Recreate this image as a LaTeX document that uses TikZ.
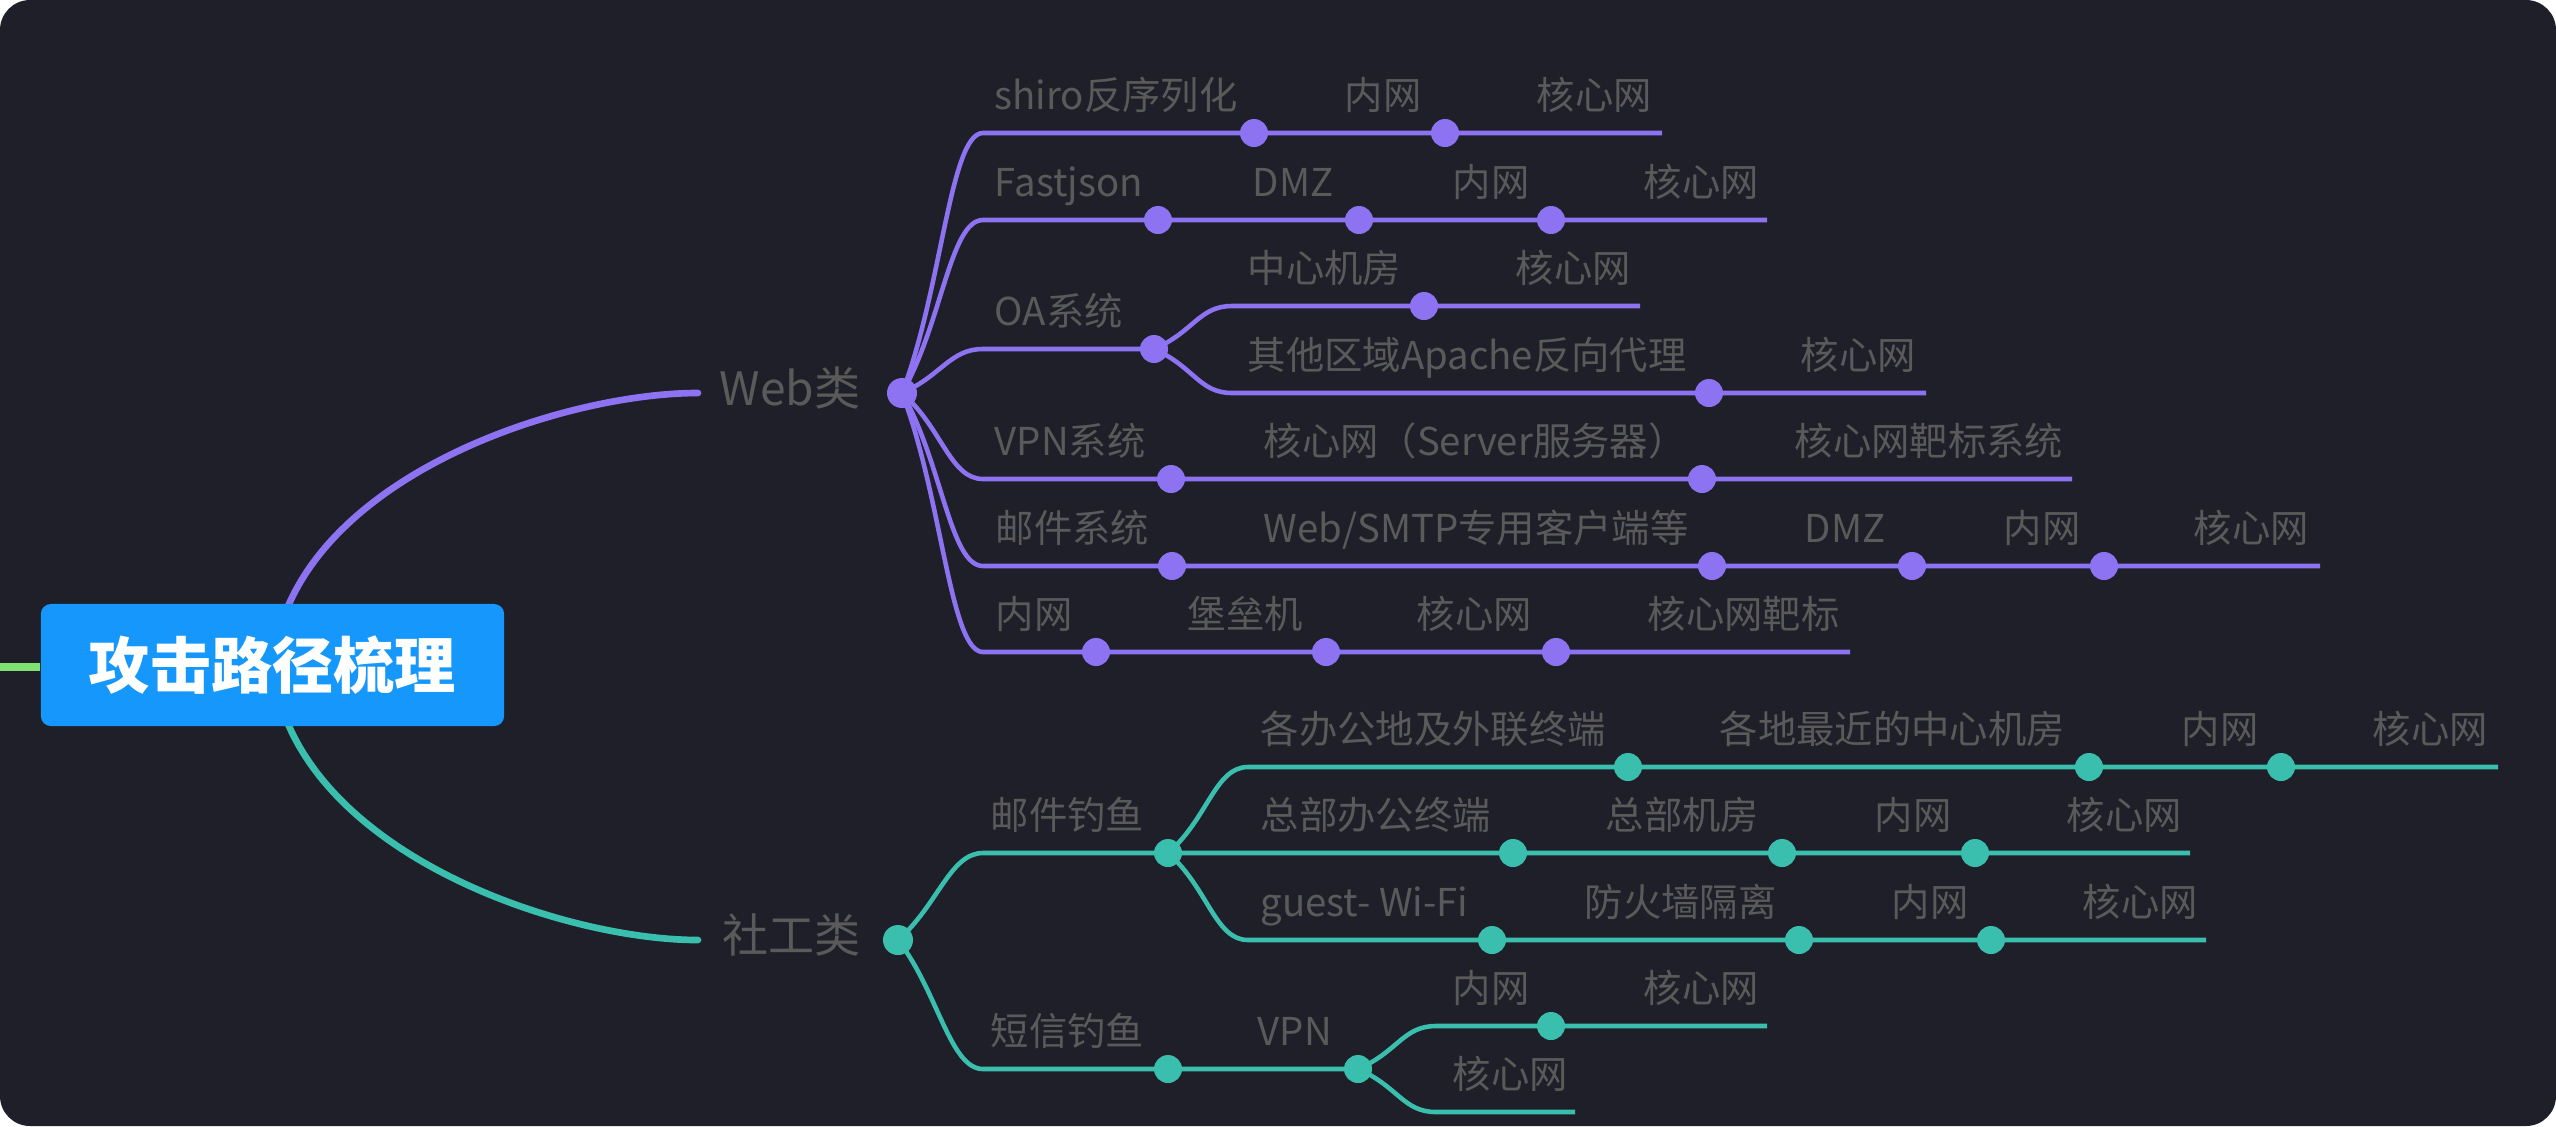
\documentclass[tikz,border=0pt]{standalone}
\usepackage{fontspec}
\setmainfont{Noto Sans CJK SC}
\usetikzlibrary{calc}
\definecolor{bgc}{HTML}{1F1F29}
\definecolor{pur}{HTML}{8D73F2}
\definecolor{tea}{HTML}{3ABEAE}
\definecolor{rootblue}{HTML}{1597FC}
\definecolor{stubc}{HTML}{80E070}
\definecolor{lbl}{HTML}{5A5A5A}
\pgfdeclarelayer{bgl}
\pgfdeclarelayer{lines}
\pgfsetlayers{bgl,lines,main}
\begin{document}
\begin{tikzpicture}[x=0.01cm,y=-0.01cm,
  mm/.style={to path={.. controls ($(\tikztostart)!0.4!(\tikztostart |- \tikztotarget)+(40,0)$) and ($(\tikztotarget)+(-33,0)$) .. (\tikztotarget)}},
  dotp/.style={circle,fill=pur,inner sep=0pt,minimum size=0.28cm},
  dott/.style={circle,fill=tea,inner sep=0pt,minimum size=0.28cm},
  lb/.style={anchor=base west,inner sep=0pt,text=lbl,font=\fontsize{10.9pt}{13pt}\selectfont},
  cat/.style={anchor=base west,inner sep=0pt,text=lbl,font=\fontsize{13.1pt}{15pt}\selectfont},
  pl/.style={draw=pur,line width=1.3pt},
  tl/.style={draw=tea,line width=1.3pt},
  mainp/.style={draw=pur,line width=1.9pt,line cap=round},
  maint/.style={draw=tea,line width=1.9pt,line cap=round},
]
\useasboundingbox (0,0) rectangle (2556,1126);
\begin{pgfonlayer}{bgl}
\fill[white] (0,0) rectangle (2556,1126);
\fill[bgc,rounded corners=0.3cm] (0,0) rectangle (2556,1126);
\end{pgfonlayer}

% root
\node[rectangle,rounded corners=0.1cm,fill=rootblue,text=white,inner sep=0pt,
  minimum width=4.63cm,minimum height=1.22cm,font=\bfseries\fontsize{17.4pt}{20pt}\selectfont]
  (root) at (272.5,665) {攻击路径梳理};
\coordinate (stub) at (0,667);
\coordinate (webend) at (698,393);
\coordinate (sgend) at (698,940);

% category nodes
\node[dotp,minimum size=0.30cm] (web) at (902,393) {};
\node[cat] (webl) at (719,405.5) {Web类};
\node[dott,minimum size=0.30cm] (sg) at (898,940) {};
\node[cat] (sgl) at (722,952.5) {社工类};

% ---------- Web rows ----------
% R1
\coordinate (p1s) at (983,133);
\node[dotp] (p1a) at (1254,133) {};
\node[dotp] (p1b) at (1445,133) {};
\coordinate (p1e) at (1662,133);
\node[lb] (l11) at (994,109) {shiro反序列化};
\node[lb] (l12) at (1344,109) {内网};
\node[lb] (l13) at (1536,109) {核心网};
% R2
\coordinate (p2s) at (983,220);
\node[dotp] (p2a) at (1158,220) {};
\node[dotp] (p2b) at (1359,220) {};
\node[dotp] (p2c) at (1551,220) {};
\coordinate (p2e) at (1767,220);
\node[lb] (l21) at (994,196) {Fastjson};
\node[lb] (l22) at (1252,196) {DMZ};
\node[lb] (l23) at (1452,196) {内网};
\node[lb] (l24) at (1643,196) {核心网};
% R3 OA
\coordinate (p3s) at (983,349);
\node[dotp] (oa) at (1154,349) {};
\node[lb] (l31) at (994,325) {OA系统};
\coordinate (p3as) at (1232,306);
\node[dotp] (p3a) at (1424,306) {};
\coordinate (p3ae) at (1640,306);
\node[lb] (l3a1) at (1247,282) {中心机房};
\node[lb] (l3a2) at (1515,282) {核心网};
\coordinate (p3bs) at (1232,393);
\node[dotp] (p3b) at (1709,393) {};
\coordinate (p3be) at (1926,393);
\node[lb] (l3b1) at (1247,369) {其他区域Apache反向代理};
\node[lb] (l3b2) at (1800,369) {核心网};
% R4 VPN
\coordinate (p4s) at (983,479);
\node[dotp] (p4a) at (1171,479) {};
\node[dotp] (p4b) at (1702,479) {};
\coordinate (p4e) at (2072,479);
\node[lb] (l41) at (994,455) {VPN系统};
\node[lb] (l42) at (1263,455) {核心网（Server服务器）};
\node[lb] (l43) at (1794,455) {核心网靶标系统};
% R5 mail
\coordinate (p5s) at (983,566);
\node[dotp] (p5a) at (1172,566) {};
\node[dotp] (p5b) at (1712,566) {};
\node[dotp] (p5c) at (1912,566) {};
\node[dotp] (p5d) at (2104,566) {};
\coordinate (p5e) at (2320,566);
\node[lb] (l51) at (995,542) {邮件系统};
\node[lb] (l52) at (1263,542) {Web/SMTP专用客户端等};
\node[lb] (l53) at (1804,542) {DMZ};
\node[lb] (l54) at (2003,542) {内网};
\node[lb] (l55) at (2193,542) {核心网};
% R6 intranet
\coordinate (p6s) at (983,652);
\node[dotp] (p6a) at (1096,652) {};
\node[dotp] (p6b) at (1326,652) {};
\node[dotp] (p6c) at (1556,652) {};
\coordinate (p6e) at (1850,652);
\node[lb] (l61) at (995,628) {内网};
\node[lb] (l62) at (1187,628) {堡垒机};
\node[lb] (l63) at (1416,628) {核心网};
\node[lb] (l64) at (1647,628) {核心网靶标};

% ---------- social rows ----------
\coordinate (t2s) at (983,853);
\node[dott] (mail) at (1168,853) {};
\node[lb] (m0) at (990,829) {邮件钓鱼};
% T1
\coordinate (t1s) at (1248,767);
\node[dott] (t1a) at (1628,767) {};
\node[dott] (t1b) at (2089,767) {};
\node[dott] (t1c) at (2281,767) {};
\coordinate (t1e) at (2498,767);
\node[lb] (m11) at (1260,743) {各办公地及外联终端};
\node[lb] (m12) at (1719,743) {各地最近的中心机房};
\node[lb] (m13) at (2181,743) {内网};
\node[lb] (m14) at (2372,743) {核心网};
% T2
\node[dott] (t2a) at (1513,853) {};
\node[dott] (t2b) at (1782,853) {};
\node[dott] (t2c) at (1975,853) {};
\coordinate (t2e) at (2190,853);
\node[lb] (m21) at (1260,829) {总部办公终端};
\node[lb] (m22) at (1605,829) {总部机房};
\node[lb] (m23) at (1874,829) {内网};
\node[lb] (m24) at (2066,829) {核心网};
% T3
\coordinate (t3s) at (1248,940);
\node[dott] (t3a) at (1492,940) {};
\node[dott] (t3b) at (1799,940) {};
\node[dott] (t3c) at (1991,940) {};
\coordinate (t3e) at (2206,940);
\node[lb] (m31) at (1260,916) {guest- Wi-Fi};
\node[lb] (m32) at (1584,916) {防火墙隔离};
\node[lb] (m33) at (1891,916) {内网};
\node[lb] (m34) at (2082,916) {核心网};
% T5 sms
\coordinate (t5s) at (983,1069);
\node[dott] (sms) at (1168,1069) {};
\node[dott] (vpn) at (1358,1069) {};
\node[lb] (s0) at (990,1045) {短信钓鱼};
\node[lb] (s1) at (1257,1045) {VPN};
% T4
\coordinate (t4s) at (1436,1026);
\node[dott] (t4a) at (1551,1026) {};
\coordinate (t4e) at (1767,1026);
\node[lb] (s41) at (1452,1002) {内网};
\node[lb] (s42) at (1643,1002) {核心网};
% T6
\coordinate (t6s) at (1436,1112);
\coordinate (t6e) at (1575,1112);
\node[lb] (s61) at (1452,1088) {核心网};

\begin{pgfonlayer}{lines}
\draw[stubc,line width=2.3pt] (stub) -- (root.west |- stub);
\draw[mainp] (root.center) .. controls (292,480) and (560,393) .. (webend);
\draw[maint] (root.center) .. controls (292,850) and (560,940) .. (sgend);
% web
\draw[pl] (web.center) to[mm] (p1s) -- (p1a.center) -- (p1b.center) -- (p1e);
\draw[pl] (web.center) to[mm] (p2s) -- (p2a.center) -- (p2b.center) -- (p2c.center) -- (p2e);
\draw[pl] (web.center) to[mm] (p3s) -- (oa.center);
\draw[pl] (oa.center) to[mm] (p3as) -- (p3a.center) -- (p3ae);
\draw[pl] (oa.center) to[mm] (p3bs) -- (p3b.center) -- (p3be);
\draw[pl] (web.center) to[mm] (p4s) -- (p4a.center) -- (p4b.center) -- (p4e);
\draw[pl] (web.center) to[mm] (p5s) -- (p5a.center) -- (p5b.center) -- (p5c.center) -- (p5d.center) -- (p5e);
\draw[pl] (web.center) to[mm] (p6s) -- (p6a.center) -- (p6b.center) -- (p6c.center) -- (p6e);
% social
\draw[tl] (sg.center) to[mm] (t2s) -- (mail.center) -- (t2a.center) -- (t2b.center) -- (t2c.center) -- (t2e);
\draw[tl] (mail.center) to[mm] (t1s) -- (t1a.center) -- (t1b.center) -- (t1c.center) -- (t1e);
\draw[tl] (mail.center) to[mm] (t3s) -- (t3a.center) -- (t3b.center) -- (t3c.center) -- (t3e);
\draw[tl] (sg.center) to[mm] (t5s) -- (sms.center) -- (vpn.center);
\draw[tl] (vpn.center) to[mm] (t4s) -- (t4a.center) -- (t4e);
\draw[tl] (vpn.center) to[mm] (t6s) -- (t6e);
\end{pgfonlayer}
\end{tikzpicture}
\end{document}
